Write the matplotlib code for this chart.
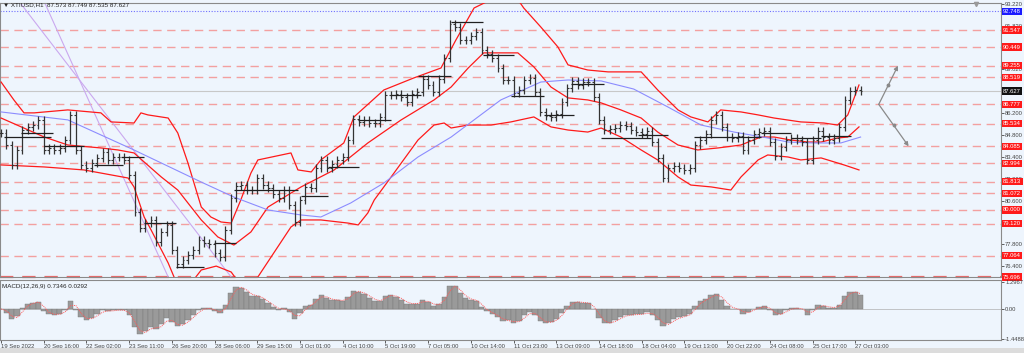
import numpy as np
import pandas as pd
import matplotlib
matplotlib.use("Agg")
import matplotlib.pyplot as plt

# ---------------- data ----------------
title = "\u25BC XTIUSD,H1  87.573 87.749 87.535 87.627"
macd_title = "MACD(12,26,9) 0.7346 0.0292"

closes = [
    84.94, 84.17, 82.89, 83.85, 85.13, 85.33, 85.45, 85.77, 83.85, 83.98,
    83.85, 83.98, 84.49, 86.10, 83.85, 82.89, 82.69, 83.02, 83.34, 83.72,
    83.21, 83.40, 83.40, 83.21, 82.25, 79.87, 78.84, 79.17, 79.36, 77.94,
    78.59, 79.04, 77.43, 76.53, 76.79, 77.11, 77.43, 78.07, 77.88, 77.82,
    77.24, 76.98, 78.72, 80.77, 81.54, 81.60, 81.28, 81.28, 82.05, 81.60,
    81.41, 81.03, 80.77, 81.28, 80.32, 79.23, 80.64, 81.48, 81.41, 82.69,
    83.21, 82.69, 82.95, 83.21, 83.40, 84.49, 85.84, 85.65, 85.77, 85.58,
    85.58, 85.97, 87.38, 87.38, 87.44, 87.25, 86.93, 87.44, 87.57, 88.41,
    88.02, 87.57, 88.41, 89.75, 91.94, 91.74, 90.91, 90.91, 91.17, 91.42,
    90.27, 90.01, 89.75, 89.11, 88.34, 88.34, 87.51, 87.70, 88.34, 88.47,
    87.57, 86.29, 86.03, 85.97, 86.16, 86.93, 87.83, 88.28, 88.02, 88.21,
    88.21, 87.25, 85.77, 85.13, 85.20, 85.26, 85.45, 85.39, 85.13, 85.00,
    84.88, 85.07, 84.36, 83.34, 82.05, 82.69, 82.82, 82.69, 82.57, 82.69,
    84.17, 84.49, 84.88, 85.77, 86.10, 85.33, 84.68, 84.62, 84.75, 83.85,
    84.49, 84.88, 85.00, 85.07, 84.36, 83.46, 84.04, 84.49, 84.62, 84.49,
    84.36, 83.21, 84.49, 85.07, 84.68, 84.49, 84.62, 85.33, 87.06, 87.64,
    87.70, 87.627,
]

# Bollinger bands (bar position, price)
bb_up_x = [0, 2.4, 4.3, 6.2, 12.5, 18.7, 20.6, 24.9, 26.2, 27.5, 31.3, 33.1, 35.0,
           37.5, 39.3, 41.2, 43.1, 44.9, 46.8, 48.1, 54.3, 55.6, 58.1, 59.9, 64.2,
           66.1, 71.7, 77.3, 82.4, 85.2, 88.6, 91.8, 96.8, 97.9, 101.1, 104.3, 106.2,
           109.9, 113.7, 119.9, 123.0, 126.8, 129.2, 132.4, 134.8, 138.6, 141.8,
           144.8, 149.8, 154.1, 156.7, 158.6, 160.7]
bb_up = [88.21, 87.06, 86.23, 86.23, 86.42, 86.23, 85.65, 85.58, 86.23, 86.10,
         85.90, 84.94, 83.02, 80.19, 79.55, 79.23, 79.16, 80.64, 82.37, 83.21,
         83.66, 82.57, 82.44, 83.21, 84.30, 85.97, 87.70, 88.47, 89.11, 90.91,
         92.96, 93.50, 93.50, 92.96, 91.74, 90.46, 89.31, 88.98, 88.86, 88.86,
         87.70, 86.42, 85.97, 85.65, 86.42, 86.29, 86.10, 85.90, 85.65, 85.58,
         85.45, 86.10, 88.02]
bb_mid_x = [0, 8.1, 12.5, 18.7, 21.9, 24.9, 26.8, 30.0, 33.1, 35.0, 37.5, 40.6, 43.6,
            46.8, 50.0, 56.2, 62.4, 68.7, 74.9, 81.1, 84.3, 87.5, 90.4, 96.8, 99.8,
            103.0, 106.2, 109.9, 112.4, 116.1, 119.9, 123.0, 126.8, 130.5, 134.3,
            138.6, 142.3, 144.8, 147.9, 151.1, 153.6, 156.7, 158.6, 160.7]
bb_mid = [85.90, 84.68, 84.17, 83.98, 83.85, 83.66, 83.08, 82.12, 81.28, 80.45,
          79.36, 78.27, 77.75, 78.59, 80.19, 81.48, 82.57, 84.30, 85.77, 87.06,
          87.89, 89.11, 90.08, 90.08, 89.18, 87.89, 87.19, 87.06, 86.87, 86.42,
          85.90, 85.00, 84.17, 83.85, 83.98, 84.17, 84.68, 84.68, 84.49, 84.36,
          84.36, 84.62, 84.68, 85.33]
bb_lo_x = [0, 8.1, 15.5, 18.7, 23.8, 24.9, 26.8, 28.1, 31.3, 32.4, 34.6, 37.5, 40.3,
           43.1, 44.9, 48.1, 54.3, 56.2, 59.9, 65.0, 66.9, 68.7, 69.9, 73.6, 78.1,
           81.1, 83.0, 84.3, 87.5, 91.8, 95.5, 99.8, 103.0, 106.2, 109.9, 112.4,
           116.1, 119.9, 123.0, 126.8, 129.2, 133.0, 136.7, 138.6, 141.8, 143.6,
           147.4, 149.8, 153.6, 157.9, 160.7]
bb_lo = [82.89, 82.76, 82.57, 82.37, 82.05, 81.48, 79.55, 78.72, 76.60, 75.70,
         74.87, 76.15, 76.40, 76.02, 75.18, 75.70, 78.91, 79.36, 79.36, 79.16,
         79.04, 79.81, 80.64, 82.37, 84.49, 85.45, 85.58, 85.26, 85.45, 85.45,
         85.65, 85.97, 85.33, 85.13, 85.00, 85.26, 84.68, 83.85, 83.21, 82.12,
         81.60, 81.48, 81.28, 82.12, 83.21, 83.53, 83.40, 83.21, 83.34, 82.89,
         82.57]

# slow moving average (blue line)
ma_x = [0, 12.5, 24.9, 37.5, 43.6, 50.0, 56.2, 59.9, 65.5, 71.7, 78.1, 84.3,
        93.6, 101.1, 106.2, 112.4, 118.5, 124.9, 131.1, 137.3, 143.6, 147.4,
        152.2, 157.3, 161.0]
ma_val = [86.29, 85.78, 83.85, 81.79, 80.83, 80.00, 79.68, 79.55, 80.45, 81.73,
          83.40, 84.68, 87.06, 88.21, 88.34, 88.28, 87.76, 86.61, 85.45, 85.00,
          84.62, 84.36, 84.30, 84.30, 84.68]

# horizontal support / resistance levels
levels = [91.547, 90.449, 89.255, 88.519, 86.777, 85.534, 84.085, 82.994,
          81.813, 81.072, 80.000, 79.120, 77.064, 75.696]
level_top = 92.748
bid = 87.627

# short black level segments (start bar, end bar, price)
seg_start = [0.6, 3.7, 8.1, 17.4, 22.5, 26.8, 32.8, 39.9, 43.6, 56.2, 61.2, 66.9,
             73.0, 78.1, 84.3, 90.3, 95.5, 101.7, 106.7, 112.4, 119.3, 129.8,
             136.1, 142.3, 147.9, 153.6]
seg_end = [9.4, 9.7, 15.5, 22.8, 26.8, 32.8, 38.0, 44.0, 55.6, 61.2, 67.0, 73.0,
           78.7, 84.3, 90.3, 96.1, 101.7, 107.3, 112.9, 121.7, 124.9, 136.1,
           142.3, 147.9, 153.6, 159.2]
seg_price = [84.68, 84.94, 84.11, 82.89, 83.40, 79.17, 76.34, 77.88, 81.28, 80.90,
             82.76, 85.77, 87.38, 88.60, 92.07, 89.95, 87.31, 86.10, 88.08, 84.62,
             84.81, 84.68, 84.68, 84.94, 84.62, 84.75]

# trend lines (bar, price) pairs
trend_a = ([8.2, 31.3], [93.28, 75.70])
trend_b = ([3.6, 43.1], [93.28, 75.70])

# projection arrows
arrow_from = (164.4, 86.777)
arrow_up = (168.0, 89.255)
arrow_down = (170.0, 84.085)

price_ticks = [93.22, 91.82, 90.42, 89.02, 86.20, 84.80, 83.40, 82.00, 80.60, 79.20, 77.80, 76.40]
price_tick_labels = ["93.220", "91.820", "90.420", "89.020", "86.200", "84.800", "83.400",
                     "82.000", "80.600", "79.200", "77.800", "76.400"]
macd_ticks = [1.2967, 0.0, -1.4488]
macd_tick_labels = ["1.2967", "0.00", "-1.4488"]

time_labels = ["19 Sep 2022", "20 Sep 16:00", "22 Sep 02:00", "23 Sep 11:00", "26 Sep 20:00",
               "28 Sep 06:00", "29 Sep 15:00", "3 Oct 01:00", "4 Oct 10:00", "5 Oct 19:00",
               "7 Oct 05:00", "10 Oct 14:00", "11 Oct 23:00", "13 Oct 09:00", "14 Oct 18:00",
               "18 Oct 04:00", "19 Oct 13:00", "20 Oct 22:00", "24 Oct 08:00", "25 Oct 17:00",
               "27 Oct 03:00"]
BARS_PER_LABEL = 8
HOURS_PER_BAR = 4.125

# ---------------- derived ----------------
s = pd.Series(closes, dtype=float)
n = len(s)
idx = np.arange(n)
opens = s.shift(1).fillna(s.iloc[0]).values
c = s.values
wick = 0.24
highs = np.maximum(opens, c) + wick
lows = np.minimum(opens, c) - wick


def span_conv(p):
    a = 1 - (1 - 2 / (p + 1)) ** HOURS_PER_BAR
    return 2 / a - 1


ema_f = s.ewm(span=span_conv(12), adjust=False).mean()
ema_s = s.ewm(span=span_conv(26), adjust=False).mean()
macd = ema_f - ema_s
signal = macd.rolling(2, min_periods=1).mean()

# ---------------- figure ----------------
plt.rcParams["font.family"] = ["Liberation Sans", "DejaVu Sans"]
BG = "#EEF5FD"
W, H = 1024, 353
fig = plt.figure(figsize=(W / 100, H / 100), dpi=100, facecolor=BG)


def px_axes(x0, y0, x1, y1):
    return fig.add_axes([x0 / W, (H - y1) / H, (x1 - x0) / W, (y1 - y0) / H])


ax1 = px_axes(0, 3, 1001, 277)
ax2 = px_axes(0, 280, 1001, 340)
xlim = (-0.2, 187.3)

for ax in (ax1, ax2):
    ax.set_facecolor(BG)
    ax.set_xlim(*xlim)
    for sp in ax.spines.values():
        sp.set_color("#8a8a8a")
        sp.set_linewidth(0.8)
    ax.yaxis.tick_right()
    ax.tick_params(axis="y", labelsize=4.2, colors="#444444", length=2, width=0.6, pad=1)

ax1.set_ylim(75.70, 93.28)
ax2.set_ylim(-1.49, 1.39)

# level lines
for lv in levels[:-1]:
    ax1.axhline(lv, color="#f3a0a0", lw=1.0, dashes=(6, 4), zorder=1)
ax1.axhline(levels[-1], color="#e86a6a", lw=1.6, dashes=(6, 4), zorder=1, clip_on=False)
ax1.axhline(level_top, color="#7070ff", lw=0.8, ls=(0, (1, 1.5)), zorder=1)
ax1.axhline(bid, color="#c8c8c8", lw=0.8, zorder=1)

# trend lines
ax1.plot(*trend_a, color="#caa8ef", lw=0.8, zorder=2)
ax1.plot(*trend_b, color="#caa8ef", lw=0.8, zorder=2)

# indicators
for bx, by in ((bb_up_x, bb_up), (bb_mid_x, bb_mid), (bb_lo_x, bb_lo)):
    ax1.plot(bx, by, color="#ff1a1a", lw=0.9, zorder=3, solid_joinstyle="round")
ax1.plot(ma_x, ma_val, color="#8c8cff", lw=0.8, zorder=3)

# OHLC bars
ax1.vlines(idx, lows, highs, color="#333333", lw=0.9, zorder=4)
ax1.hlines(opens, idx - 0.35, idx, color="#333333", lw=0.8, zorder=4)
ax1.hlines(c, idx, idx + 0.35, color="#333333", lw=0.8, zorder=4)

# black level segments
ax1.hlines(seg_price, seg_start, seg_end, color="#202020", lw=0.9, zorder=5)

# projection arrows
for tgt in (arrow_up, arrow_down):
    ax1.annotate("", xy=tgt, xytext=arrow_from,
                 arrowprops=dict(arrowstyle="-|>", color="#8a8a8a", lw=0.9,
                                 mutation_scale=6, shrinkA=0, shrinkB=0), zorder=6)
    ax1.plot([(arrow_from[0] + tgt[0]) / 2], [(arrow_from[1] + tgt[1]) / 2], "o",
             color="#8a8a8a", ms=1.8, zorder=6)

# chart-shift marker at the top
ax1.plot([182.6], [93.22], marker="v", color="#9a9a9a", ms=3, clip_on=False, zorder=6)

# price axis ticks and boxes
ax1.set_yticks(price_ticks)
ax1.set_yticklabels(price_tick_labels)
ax1.set_xticks([])


def box(ax, val, txt, fc, tc="white"):
    ax.annotate(txt, xy=(1, val), xycoords=ax.get_yaxis_transform(), xytext=(1.6, 0),
                textcoords="offset points", va="center", ha="left", fontsize=4.2, color=tc,
                bbox=dict(boxstyle="square,pad=0.2", fc=fc, ec="none"),
                annotation_clip=False, zorder=10)


for lv in levels:
    box(ax1, lv, f"{lv:.3f}", "#ff1a1a")
box(ax1, level_top, f"{level_top:.3f}", "#1a1aff")
box(ax1, bid, f"{bid:.3f}", "#111111")

# MACD panel
ax2.bar(idx, macd, width=1.0, color="#9a9a9a", edgecolor="#7a7a7a", lw=0.3, zorder=3)
ax2.plot(idx, signal, color="#ff5a5a", lw=0.7, ls=(0, (1, 1)), zorder=4)
ax2.axhline(0, color="#b0b0b0", lw=0.5, zorder=2)
ax2.set_yticks(macd_ticks)
ax2.set_yticklabels(macd_tick_labels)
tick_pos = [i * BARS_PER_LABEL for i in range(len(time_labels))]
ax2.set_xticks(tick_pos)
ax2.set_xticklabels(time_labels, ha="left", fontsize=4.2, color="#444444")
ax2.tick_params(axis="x", length=2, width=0.6, pad=1, colors="#444444")

fig.text(3 / W, 1 - 5 / H, title, fontsize=4.5, color="#222222", va="center", ha="left")
ax2.text(0.002, 0.93, macd_title, transform=ax2.transAxes, fontsize=4.5, color="#222222",
         va="top", ha="left")

# bottom status strip
fig.patches.append(plt.Rectangle((0, 0), 1, 5 / H, transform=fig.transFigure,
                                 facecolor="#dcdcdc", edgecolor="none"))

fig.savefig("out.png", dpi=100, facecolor=BG)
